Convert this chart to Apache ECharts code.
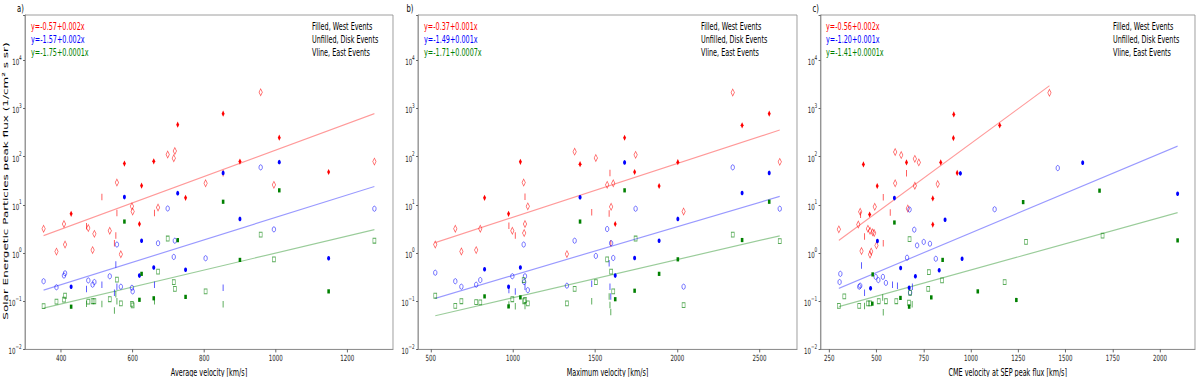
<!DOCTYPE html>
<html>
<head>
<meta charset="utf-8">
<script src="https://cdn.jsdelivr.net/npm/echarts@6/dist/echarts.min.js"></script>
<style>
  html, body { margin: 0; padding: 0; background: #fff; overflow: hidden; }
  /* the figure is drawn wide and squeezed horizontally like the source image */
  #chart { width: 1860px; height: 377px; transform: scaleX(0.645161); transform-origin: 0 0; }
</style>
</head>
<body>
<div id="chart"></div>
<script>
// [velocity, flux, location]  F = west (filled), U = disk (unfilled), V = east (vline)
var aRed = [[351,3.2,'U'],[387,1.07,'U'],[408,4.0,'U'],[411,1.5,'U'],[428,6.5,'F'],[471,3.6,'V'],[476,3.3,'U'],[488,1.15,'U'],[493,2.5,'U'],[514,14.5,'V'],[536,2.9,'U'],[549,1.6,'V'],[553,2.3,'V'],[556,6.8,'V'],[556,29,'U'],[567,0.94,'U'],[577,72,'F'],[598,9.3,'U'],[600,7.3,'U'],[619,4.0,'F'],[625,25,'F'],[659,80,'F'],[661,6.8,'V'],[671,8.8,'U'],[698,111,'U'],[715,93,'U'],[718,131,'U'],[726,462,'F'],[748,14,'F'],[804,28,'U'],[853,780,'F'],[853,45,'V'],[900,79,'F'],[958,2170,'U'],[995,26,'U'],[1010,248,'F'],[1148,48,'F'],[1276,79,'U']]
var aBlue = [[351,0.26,'U'],[387,0.195,'U'],[408,0.34,'U'],[411,0.38,'U'],[428,0.2,'F'],[471,0.18,'V'],[476,0.27,'U'],[488,0.22,'U'],[493,0.25,'U'],[514,0.22,'V'],[536,0.33,'U'],[549,0.15,'V'],[553,0.58,'V'],[556,0.2,'V'],[556,1.5,'U'],[567,0.2,'U'],[577,14.5,'F'],[598,0.19,'U'],[600,0.16,'U'],[619,0.34,'F'],[625,1.8,'F'],[659,0.5,'F'],[661,0.22,'V'],[671,1.6,'U'],[698,8.4,'U'],[715,0.83,'U'],[718,1.8,'U'],[726,17.5,'F'],[748,0.45,'F'],[804,0.78,'U'],[853,46,'F'],[853,0.19,'V'],[900,5.1,'F'],[958,60,'U'],[995,3.1,'U'],[1010,77,'F'],[1148,0.78,'F'],[1276,8.3,'U']]
var aGreen = [[351,0.079,'U'],[387,0.098,'U'],[408,0.108,'U'],[411,0.13,'U'],[428,0.077,'F'],[471,0.089,'V'],[476,0.098,'U'],[488,0.1,'U'],[493,0.1,'U'],[514,0.088,'V'],[536,0.11,'U'],[549,0.064,'V'],[553,0.14,'V'],[556,0.1,'V'],[556,0.28,'U'],[567,0.09,'U'],[577,4.5,'F'],[598,0.088,'U'],[600,0.082,'U'],[619,0.107,'F'],[625,0.37,'F'],[659,0.115,'F'],[661,0.1,'V'],[671,0.41,'U'],[698,2.0,'U'],[715,0.25,'U'],[718,0.18,'U'],[726,1.85,'F'],[748,0.123,'F'],[804,0.16,'U'],[853,11.6,'F'],[853,0.087,'V'],[900,0.72,'F'],[958,2.4,'U'],[995,0.74,'U'],[1010,20,'F'],[1148,0.16,'F'],[1276,1.8,'U']]

var bRed = [[527,1.5,'U'],[649,3.2,'U'],[686,1.08,'U'],[776,1.15,'U'],[801,3.2,'U'],[827,14,'F'],[973,6.5,'F'],[975,3.7,'V'],[996,2.9,'U'],[1014,2.3,'V'],[1045,78,'F'],[1065,29,'U'],[1068,2.6,'U'],[1073,14.7,'V'],[1073,4.0,'U'],[1090,9.3,'U'],[1328,0.95,'U'],[1375,127,'U'],[1408,70,'F'],[1479,7,'V'],[1504,94,'U'],[1573,26,'U'],[1585,6.6,'V'],[1590,46,'V'],[1595,1.6,'V'],[1597,9.1,'U'],[1610,28,'U'],[1622,4.0,'F'],[1679,247,'F'],[1740,48,'F'],[1746,109,'U'],[1889,24.6,'F'],[2003,77,'F'],[2038,7.3,'U'],[2337,2150,'U'],[2394,447,'F'],[2559,780,'F'],[2623,78,'U']]
var bBlue = [[527,0.39,'U'],[649,0.26,'U'],[686,0.2,'U'],[776,0.22,'U'],[801,0.275,'U'],[827,0.46,'F'],[973,0.2,'F'],[975,0.17,'V'],[996,0.33,'U'],[1014,0.16,'V'],[1045,0.5,'F'],[1065,1.5,'U'],[1068,0.25,'U'],[1073,0.2,'V'],[1073,0.33,'U'],[1090,0.17,'U'],[1328,0.21,'U'],[1375,1.8,'U'],[1408,14.3,'F'],[1479,0.23,'V'],[1504,0.87,'U'],[1573,3.15,'U'],[1585,0.61,'V'],[1590,0.2,'V'],[1595,0.125,'V'],[1597,1.6,'U'],[1610,0.79,'U'],[1622,0.34,'F'],[1679,76,'F'],[1740,0.79,'F'],[1746,8.3,'U'],[1889,1.8,'F'],[2003,5.1,'F'],[2038,0.2,'U'],[2337,60,'U'],[2394,17.6,'F'],[2559,46,'F'],[2623,8.3,'U']]
var bGreen = [[527,0.13,'U'],[649,0.08,'U'],[686,0.1,'U'],[776,0.096,'U'],[801,0.095,'U'],[827,0.126,'F'],[973,0.078,'F'],[975,0.085,'V'],[996,0.11,'U'],[1014,0.079,'V'],[1045,0.12,'F'],[1065,0.275,'U'],[1068,0.1,'U'],[1073,0.08,'V'],[1073,0.106,'U'],[1090,0.09,'U'],[1328,0.09,'U'],[1375,0.18,'U'],[1408,4.5,'F'],[1479,0.1,'V'],[1504,0.25,'U'],[1573,0.74,'U'],[1585,0.125,'V'],[1590,0.083,'V'],[1595,0.06,'V'],[1597,0.41,'U'],[1610,0.16,'U'],[1622,0.11,'F'],[1679,20,'F'],[1740,0.165,'F'],[1746,2.0,'U'],[1889,0.37,'F'],[2003,0.74,'F'],[2038,0.083,'U'],[2337,2.4,'U'],[2394,1.86,'F'],[2559,11.6,'F'],[2623,1.77,'U']]

var cRed = [[431,69,'F'],[464,6.3,'F'],[504,24.6,'F'],[659,76,'F'],[798,13.6,'F'],[798,3.9,'F'],[840,76,'F'],[909,754,'F'],[907,243,'F'],[927,46,'F'],[1152,447,'F'],
  [301,3.1,'U'],[414,7.2,'U'],[404,3.9,'U'],[421,1.1,'U'],[455,3.2,'U'],[466,2.9,'U'],[480,2.7,'U'],[488,2.6,'U'],[466,0.93,'U'],[472,1.07,'U'],[500,1.44,'U'],[491,9.1,'U'],[599,125,'U'],[631,108,'U'],[599,28,'U'],[703,90,'U'],[724,76,'U'],[703,25,'U'],[666,8.4,'U'],[824,27,'U'],[1415,2115,'U'],
  [416,6.2,'V'],[437,2.2,'V'],[536,14.3,'V'],[536,1.6,'V'],[573,6.9,'V'],[659,45,'V']]
var cBlue = [[469,0.185,'F'],[505,1.78,'F'],[595,13.8,'F'],[628,0.49,'F'],[673,0.19,'F'],[706,0.33,'F'],[832,0.44,'F'],[863,4.9,'F'],[944,45,'F'],[953,0.76,'F'],[1591,75,'F'],[2093,17,'F'],
  [305,0.25,'U'],[309,0.37,'U'],[409,0.2,'U'],[414,0.21,'U'],[496,0.32,'U'],[510,0.275,'U'],[534,0.32,'U'],[550,0.24,'U'],[675,8,'U'],[700,3.05,'U'],[715,1.44,'U'],[750,1.7,'U'],[783,1.56,'U'],[662,0.8,'U'],[814,0.76,'U'],[678,0.15,'U'],[1125,8.1,'U'],[1459,58,'U'],
  [421,0.55,'V'],[437,0.15,'V'],[585,0.22,'V'],[611,0.21,'V'],[690,0.2,'V']]
var cGreen = [[480,0.36,'F'],[478,0.089,'F'],[595,4.3,'F'],[850,0.72,'F'],[627,0.117,'F'],[790,0.12,'F'],[673,0.077,'F'],[1036,0.16,'F'],[1680,19.7,'F'],[1276,11.4,'F'],[2093,1.83,'F'],[1240,0.106,'F'],
  [301,0.08,'U'],[330,0.126,'U'],[409,0.08,'U'],[455,0.09,'U'],[466,0.09,'U'],[512,0.1,'U'],[550,0.1,'U'],[605,0.1,'U'],[672,0.093,'U'],[675,1.95,'U'],[777,0.4,'U'],[847,0.27,'U'],[774,0.18,'U'],[678,0.15,'U'],[1291,1.7,'U'],[1696,2.3,'U'],[1178,0.25,'U'],
  [437,0.08,'V'],[533,0.12,'V'],[536,0.059,'V'],[689,0.086,'V']]

// fitted lines, end points
var aFitRed = [[351,2.3],[1276,780]]
var aFitBlue = [[351,0.17],[1276,24]]
var aFitGreen = [[351,0.072],[1276,3.05]]
var bFitRed = [[527,1.64],[2623,357]]
var bFitBlue = [[527,0.115],[2623,15]]
var bFitGreen = [[527,0.05],[2623,2.28]]
var cFitRed = [[301,1.83],[1415,2960]]
var cFitBlue = [[301,0.185],[2093,166]]
var cFitGreen = [[301,0.077],[2093,6.9]]

var aTicks = [400, 600, 800, 1000, 1200]
var bTicks = [500, 1000, 1500, 2000, 2500]
var cTicks = [250, 500, 750, 1000, 1250, 1500, 1750, 2000]

var aEq = ['y=-0.57+0.002x', 'y=-1.57+0.002x', 'y=-1.75+0.0001x']
var bEq = ['y=-0.37+0.001x', 'y=-1.49+0.001x', 'y=-1.71+0.0007x']
var cEq = ['y=-0.56+0.002x', 'y=-1.20+0.001x', 'y=-1.41+0.0001x']
var legendLines = ['Filled, West Events', 'Unfilled, Disk Events', 'Vline, East Events']

var S = 1200 / 1860 // horizontal squeeze
var FONT = '"DejaVu Sans", sans-serif'
var COLORS = { red: '#ff0000', blue: '#0000ff', green: '#008000' }
var SHAPES = { red: 'diamond', blue: 'circle', green: 'rect' }
var SIZES = { red: [4.6, 6.2], blue: [4.6, 4.6], green: [4.0, 4.2] }
var LINE_COLORS = { red: 'rgba(255,0,0,0.4)', blue: 'rgba(0,0,255,0.4)', green: 'rgba(0,128,0,0.4)' }

var panels = [
  { tag: 'a)', boxL: 25, boxR: 393, tagX: 17, eqX: 31, legX: 312, xmin: 299, xmax: 1328, ticks: aTicks,
    name: 'Average velocity [km/s]', eq: aEq,
    pts: { red: aRed, blue: aBlue, green: aGreen }, fit: { red: aFitRed, blue: aFitBlue, green: aFitGreen } },
  { tag: 'b)', boxL: 418, boxR: 797, tagX: 406.5, eqX: 424, legX: 701, xmin: 422, xmax: 2728, ticks: bTicks,
    name: 'Maximum velocity [km/s]', eq: bEq,
    pts: { red: bRed, blue: bBlue, green: bGreen }, fit: { red: bFitRed, blue: bFitBlue, green: bFitGreen } },
  { tag: 'c)', boxL: 820.5, boxR: 1195, tagX: 812.5, eqX: 826, legX: 1113, xmin: 204, xmax: 2185, ticks: cTicks,
    name: 'CME velocity at SEP peak flux [km/s]', eq: cEq,
    pts: { red: cRed, blue: cBlue, green: cGreen }, fit: { red: cFitRed, blue: cFitBlue, green: cFitGreen } }
]

function pick(list, loc) {
  return list.filter(function(d) { return d[2] === loc }).map(function(d) { return [d[0], d[1]] })
}

function yLabel(v) {
  var lg = Math.log10(v)
  var n = Math.round(lg)
  if (Math.abs(lg - n) > 1e-6) return ''
  return '{b|10}{s|' + (n < 0 ? '\u2212' + (-n) : n) + '}'
}

var BOX = '#8a8a8a'
var grids = []
var xAxes = []
var yAxes = []
var series = []
var graphics = []
var rows = [26.7, 39.7, 52.8]

panels.forEach(function(p, i) {
  grids.push({
    left: p.boxL / S, top: 15, width: (p.boxR - p.boxL) / S, height: 334.4,
    show: true, borderColor: BOX, borderWidth: 1, backgroundColor: 'transparent',
    containLabel: false, outerBoundsMode: 'none'
  })
  xAxes.push({
    type: 'value', gridIndex: i, min: p.xmin, max: p.xmax,
    name: p.name, nameLocation: 'middle', nameGap: 11,
    nameTextStyle: { fontSize: 10, color: '#000', fontFamily: FONT },
    axisLine: { show: true, lineStyle: { color: BOX, width: 1 } },
    axisTick: { show: true, length: 3, customValues: p.ticks, lineStyle: { color: '#444' } },
    axisLabel: {
      customValues: p.ticks, fontSize: 8.5, color: '#222', margin: 4, fontFamily: FONT,
      formatter: function(v) { return String(v) }
    },
    splitLine: { show: false }
  })
  yAxes.push({
    type: 'log', logBase: 10, gridIndex: i, min: 0.01, max: Math.pow(10, 4.94),
    axisLine: { show: true, lineStyle: { color: BOX, width: 1 } },
    axisTick: { show: true, length: 3, lineStyle: { color: '#444' } },
    axisLabel: {
      margin: 5, formatter: yLabel, color: '#222', fontFamily: FONT,
      rich: {
        b: { fontSize: 8.5, lineHeight: 13, verticalAlign: 'bottom', color: '#222', fontFamily: FONT },
        s: { fontSize: 6.5, lineHeight: 13, verticalAlign: 'top', color: '#222', fontFamily: FONT }
      }
    },
    splitLine: { show: false }
  })

  ;['red', 'blue', 'green'].forEach(function(c) {
    series.push({
      type: 'line', xAxisIndex: i, yAxisIndex: i, data: p.fit[c], showSymbol: false, z: 1,
      lineStyle: { color: LINE_COLORS[c], width: 1.2 }, silent: true
    })
    // west: filled
    series.push({
      type: 'scatter', xAxisIndex: i, yAxisIndex: i, data: pick(p.pts[c], 'F'), z: 3,
      symbol: SHAPES[c], symbolSize: SIZES[c], itemStyle: { color: COLORS[c], opacity: 1 }
    })
    // disk: unfilled
    series.push({
      type: 'scatter', xAxisIndex: i, yAxisIndex: i, data: pick(p.pts[c], 'U'), z: 3,
      symbol: SHAPES[c], symbolSize: [SIZES[c][0] + 0.6, SIZES[c][1] + 0.6],
      itemStyle: { color: 'transparent', borderColor: COLORS[c], borderWidth: 1, opacity: 0.65 }
    })
    // east: vertical line marker
    series.push({
      type: 'scatter', xAxisIndex: i, yAxisIndex: i, data: pick(p.pts[c], 'V'), z: 3,
      symbol: 'rect', symbolSize: [1.5, 6.5], itemStyle: { color: COLORS[c], opacity: 0.65 }
    })
  })

  graphics.push({ type: 'text', x: p.tagX / S, y: 8, style: { text: p.tag, fill: '#000', fontSize: 10.5, fontFamily: FONT, verticalAlign: 'middle' } })
  p.eq.forEach(function(t, k) {
    var col = [COLORS.red, COLORS.blue, COLORS.green][k]
    graphics.push({ type: 'text', x: p.eqX / S, y: rows[k], style: { text: t, fill: col, fontSize: 10, fontFamily: FONT, verticalAlign: 'middle' } })
    graphics.push({ type: 'text', x: p.legX / S, y: rows[k], style: { text: legendLines[k], fill: '#000', fontSize: 10, fontFamily: FONT, verticalAlign: 'middle' } })
  })
})

graphics.push({
  type: 'text', x: 5 / S, y: 181, rotation: Math.PI / 2,
  style: { text: 'Solar Energetic Particles peak flux (1/cm\u00b2 s sr)', fill: '#000', fontSize: 12, fontFamily: FONT, align: 'center', verticalAlign: 'middle' }
})

var chart = echarts.init(document.getElementById('chart'), null, { renderer: 'svg' })
chart.setOption({
  animation: false,
  backgroundColor: '#fff',
  grid: grids,
  xAxis: xAxes,
  yAxis: yAxes,
  series: series,
  graphic: graphics
})
</script>
</body>
</html>
